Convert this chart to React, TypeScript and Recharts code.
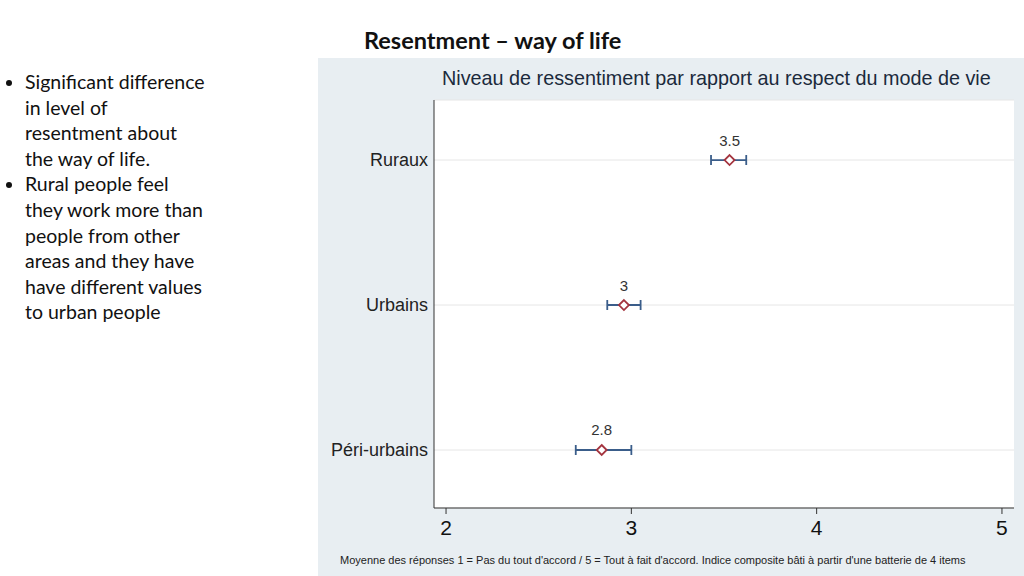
import React from "react";
import {
  CartesianGrid,
  ErrorBar,
  LabelList,
  Scatter,
  ScatterChart,
  XAxis,
  YAxis,
} from "recharts";

// categories, bottom to top on the y axis
const categories = ["Péri-urbains", "Urbains", "Ruraux"];
const means = [2.84, 2.96, 3.53];
const lowerCI = [2.7, 2.87, 3.43];
const upperCI = [3.0, 3.05, 3.62];
const valueLabels = ["2.8", "3", "3.5"];
const xTicks = [2, 3, 4, 5];

// bullet text, wrapped the way the slide wraps it
const bullets = [
  ["Significant difference", "in level of", "resentment about", "the way of life."],
  [
    "Rural people feel",
    "they work more than",
    "people from other",
    "areas and they have",
    "have different values",
    "to urban people",
  ],
];

const data = categories.map((name, i) => ({
  name,
  pos: i + 1,
  mean: means[i],
  err: [means[i] - lowerCI[i], upperCI[i] - means[i]],
  label: valueLabels[i],
}));

const X_DOMAIN: [number, number] = [1.935, 5.065];
const Y_DOMAIN: [number, number] = [0.6, 3.414];

const W = 706;
const H = 518;
const M = { top: 42, right: 10, bottom: 0, left: 0 };
const Y_AXIS_W = 116;
const X_AXIS_H = 68;

const MAROON = "#a4343f";
const NAVY = "#3a5d8a";
const ARIAL = "'Liberation Sans', Arial, sans-serif";

function Diamond(props: any) {
  const { cx, cy } = props;
  const r = 5;
  return (
    <polygon
      points={`${cx},${cy - r} ${cx + r},${cy} ${cx},${cy + r} ${cx - r},${cy}`}
      fill="#fff"
      stroke={MAROON}
      strokeWidth={1.8}
    />
  );
}

export default function App() {
  return (
    <div
      style={{
        position: "absolute",
        left: 0,
        top: 0,
        width: 1024,
        height: 576,
        background: "#fff",
        overflow: "hidden",
      }}
    >
      <div
        style={{
          position: "absolute",
          left: 364,
          top: 26,
          fontFamily: "Lato, 'Open Sans', sans-serif",
          fontWeight: 700,
          fontSize: 23.5,
          color: "#111",
          whiteSpace: "nowrap",
        }}
      >
        Resentment – way of life
      </div>

      <ul
        style={{
          position: "absolute",
          left: 0,
          top: 69,
          margin: 0,
          paddingLeft: 25,
          fontFamily: "Lato, 'Open Sans', sans-serif",
          fontSize: 19.5,
          lineHeight: "25.6px",
          color: "#111",
          whiteSpace: "nowrap",
        }}
      >
        {bullets.map((lines, i) => (
          <li key={i}>
            {lines.map((l, j) => (
              <React.Fragment key={j}>
                {l}
                {j < lines.length - 1 && <br />}
              </React.Fragment>
            ))}
          </li>
        ))}
      </ul>

      <div
        style={{
          position: "absolute",
          left: 318,
          top: 58,
          width: W,
          height: H,
          background: "#e8eef2",
        }}
      >
        {/* white plot region behind the transparent chart svg */}
        <div
          style={{
            position: "absolute",
            left: M.left + Y_AXIS_W,
            top: M.top,
            width: W - M.left - Y_AXIS_W - M.right,
            height: H - M.top - X_AXIS_H - M.bottom,
            background: "#fff",
          }}
        />
        <div
          style={{
            position: "absolute",
            left: 124,
            top: 9,
            fontFamily: ARIAL,
            fontSize: 19.8,
            color: "#1b2a3c",
            whiteSpace: "nowrap",
          }}
        >
          Niveau de ressentiment par rapport au respect du mode de vie
        </div>

        <div style={{ position: "absolute", left: 0, top: 0 }}>
          <ScatterChart width={W} height={H} margin={M}>
            <CartesianGrid horizontal vertical={false} stroke="#e6e6e6" />
            <XAxis
              type="number"
              dataKey="mean"
              domain={X_DOMAIN}
              ticks={xTicks}
              allowDataOverflow
              stroke="#333"
              tickLine={{ stroke: "#333" }}
              tickSize={6}
              tickMargin={6}
              tick={{ fontSize: 21, fill: "#111", fontFamily: ARIAL }}
              height={X_AXIS_H}
            />
            <YAxis
              type="number"
              dataKey="pos"
              domain={Y_DOMAIN}
              ticks={[1, 2, 3]}
              allowDataOverflow
              tickFormatter={(v: number) => categories[v - 1]}
              stroke="#333"
              tickLine={false}
              tickSize={4}
              tick={{ fontSize: 18, fill: "#222", fontFamily: ARIAL }}
              width={Y_AXIS_W}
            />
            <Scatter data={data} shape={<Diamond />} isAnimationActive={false}>
              <ErrorBar
                dataKey="err"
                direction="x"
                width={5}
                stroke={NAVY}
                strokeWidth={1.8}
              />
              <LabelList
                dataKey="label"
                position="top"
                offset={10}
                style={{ fontSize: 15, fill: "#333", fontFamily: ARIAL }}
              />
            </Scatter>
          </ScatterChart>
        </div>

        <div
          style={{
            position: "absolute",
            left: 22,
            top: 496,
            fontFamily: ARIAL,
            fontSize: 11,
            color: "#222",
            whiteSpace: "nowrap",
          }}
        >
          Moyenne des réponses 1 = Pas du tout d'accord / 5 = Tout à fait d'accord. Indice composite bâti à partir d'une batterie de 4 items
        </div>
      </div>
    </div>
  );
}
